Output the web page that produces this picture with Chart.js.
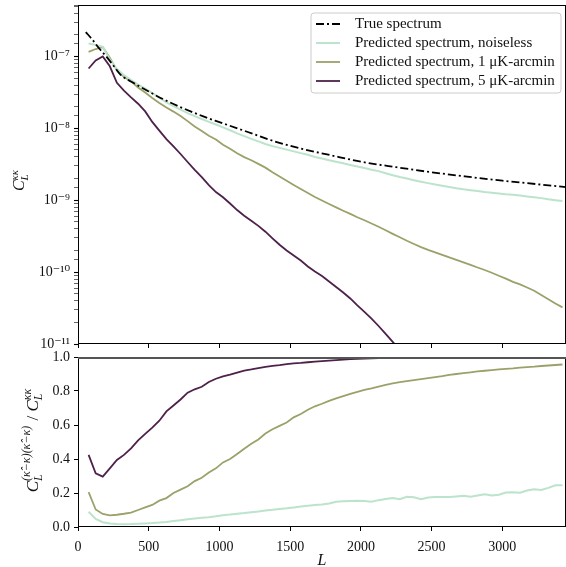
<!DOCTYPE html>
<html>
<head>
<meta charset="utf-8">
<script src="https://cdn.jsdelivr.net/npm/chart.js@4.4.1/dist/chart.umd.min.js"></script>
<style>
  html, body { margin: 0; padding: 0; background: #fff; }
  #wrap { position: relative; width: 566px; height: 567px; overflow: hidden; }
  #topChart { position: absolute; left: 0; top: 0; }
  #ratioChart { position: absolute; left: 0; top: 340px; }
</style>
</head>
<body>
<div id="wrap">
  <canvas id="topChart" width="566" height="356"></canvas>
  <canvas id="ratioChart" width="566" height="227"></canvas>
</div>
<script>
// multipole bins (centres)
const ells = [75, 125, 175, 225, 275, 325, 375, 425, 475, 525,
  575, 625, 675, 725, 775, 825, 875, 925, 975, 1025,
  1075, 1125, 1175, 1225, 1275, 1325, 1375, 1425, 1475, 1525,
  1575, 1625, 1675, 1725, 1775, 1825, 1875, 1925, 1975, 2025,
  2075, 2125, 2175, 2225, 2275, 2325, 2375, 2425, 2475, 2525,
  2575, 2625, 2675, 2725, 2775, 2825, 2875, 2925, 2975, 3025,
  3075, 3125, 3175, 3225, 3275, 3325, 3375, 3425];

// true spectrum
const trueEll = [55, 100, 150, 200, 250, 300, 400, 500, 600, 700, 800, 900, 1000,
  1200, 1400, 1600, 1800, 2000, 2250, 2500, 2750, 3000, 3250, 3450];
const trueCl = [2.18e-7, 1.73e-7, 1.29e-7, 1.0e-7, 7.5e-8, 5.6e-8, 4.2e-8, 3.25e-8, 2.56e-8, 2.07e-8, 1.71e-8, 1.43e-8, 1.22e-8,
  8.9e-9, 6.5e-9, 5.1e-9, 4.17e-9, 3.44e-9, 2.88e-9, 2.45e-9, 2.13e-9, 1.87e-9, 1.67e-9, 1.52e-9];

// predicted spectra
const clNoiseless = [1.52e-7, 1.45e-7, 1.36e-7, 9.1e-8, 6.7e-8, 5.5e-8, 4.7e-8, 4.07e-8, 3.58e-8, 3.1e-8,
  2.68e-8, 2.3e-8, 2.04e-8, 1.82e-8, 1.63e-8, 1.48e-8, 1.35e-8, 1.23e-8, 1.13e-8, 1.03e-8,
  9.4e-9, 8.5e-9, 7.8e-9, 7.15e-9, 6.6e-9, 6.07e-9, 5.66e-9, 5.35e-9, 5.06e-9, 4.78e-9,
  4.52e-9, 4.3e-9, 4.0e-9, 3.81e-9, 3.61e-9, 3.44e-9, 3.26e-9, 3.1e-9, 2.95e-9, 2.81e-9,
  2.66e-9, 2.54e-9, 2.38e-9, 2.23e-9, 2.1e-9, 2.0e-9, 1.9e-9, 1.81e-9, 1.73e-9, 1.66e-9,
  1.59e-9, 1.53e-9, 1.47e-9, 1.42e-9, 1.38e-9, 1.34e-9, 1.3e-9, 1.27e-9, 1.24e-9, 1.21e-9,
  1.19e-9, 1.16e-9, 1.13e-9, 1.1e-9, 1.07e-9, 1.03e-9, 1.0e-9, 9.75e-10];

const cl1uK = [1.16e-7, 1.27e-7, 1.35e-7, 9.6e-8, 6.4e-8, 5.2e-8, 4.5e-8, 3.7e-8, 3.15e-8, 2.64e-8,
  2.25e-8, 1.95e-8, 1.71e-8, 1.48e-8, 1.26e-8, 1.06e-8, 9.2e-9, 7.9e-9, 7.0e-9, 5.9e-9,
  5.2e-9, 4.5e-9, 3.98e-9, 3.6e-9, 3.2e-9, 2.84e-9, 2.45e-9, 2.14e-9, 1.87e-9, 1.63e-9,
  1.43e-9, 1.26e-9, 1.11e-9, 9.9e-10, 8.85e-10, 7.95e-10, 7.15e-10, 6.45e-10, 5.8e-10, 5.26e-10,
  4.75e-10, 4.27e-10, 3.82e-10, 3.41e-10, 3.05e-10, 2.73e-10, 2.46e-10, 2.23e-10, 2.04e-10, 1.88e-10,
  1.74e-10, 1.6e-10, 1.48e-10, 1.37e-10, 1.26e-10, 1.16e-10, 1.07e-10, 9.8e-11, 8.9e-11, 8.1e-11,
  7.3e-11, 6.75e-11, 6.1e-11, 5.5e-11, 4.8e-11, 4.2e-11, 3.67e-11, 3.23e-11];

const cl5uK = [6.8e-8, 8.8e-8, 1.0e-7, 7.3e-8, 4.3e-8, 3.35e-8, 2.7e-8, 2.2e-8, 1.72e-8, 1.23e-8,
  9.3e-9, 7.1e-9, 5.6e-9, 4.4e-9, 3.4e-9, 2.65e-9, 2.1e-9, 1.62e-9, 1.3e-9, 1.1e-9,
  9.0e-10, 7.3e-10, 6.1e-10, 5.2e-10, 4.4e-10, 3.65e-10, 2.95e-10, 2.4e-10, 2.0e-10, 1.7e-10,
  1.45e-10, 1.2e-10, 1.02e-10, 8.8e-11, 7.4e-11, 6.2e-11, 5.2e-11, 4.3e-11, 3.45e-11, 2.8e-11,
  2.25e-11, 1.78e-11, 1.38e-11, 1.07e-11, 8.2e-12, 6.3e-12];

// residual / true ratio
const ratioNoiseless = [0.09, 0.048, 0.028, 0.02, 0.017, 0.016, 0.017, 0.019, 0.021, 0.023,
  0.026, 0.03, 0.035, 0.04, 0.045, 0.05, 0.055, 0.058, 0.063, 0.069,
  0.073, 0.078, 0.082, 0.087, 0.091, 0.097, 0.101, 0.106, 0.11, 0.115,
  0.12, 0.125, 0.129, 0.132, 0.138, 0.149, 0.151, 0.153, 0.155, 0.153,
  0.149, 0.158, 0.165, 0.171, 0.163, 0.178, 0.175, 0.163, 0.174, 0.176,
  0.176, 0.176, 0.18, 0.184, 0.178, 0.185, 0.192, 0.185, 0.19, 0.203,
  0.204, 0.202, 0.215, 0.222, 0.218, 0.23, 0.245, 0.245];

const ratio1uK = [0.205, 0.103, 0.077, 0.068, 0.072, 0.078, 0.085, 0.1, 0.115, 0.13,
  0.155, 0.17, 0.2, 0.22, 0.24, 0.27, 0.29, 0.32, 0.345, 0.38,
  0.4, 0.43, 0.46, 0.49, 0.515, 0.55, 0.575, 0.595, 0.615, 0.645,
  0.665, 0.69, 0.71, 0.725, 0.742, 0.757, 0.77, 0.783, 0.795, 0.806,
  0.815, 0.826, 0.836, 0.845, 0.852, 0.858, 0.864, 0.87, 0.876, 0.882,
  0.888, 0.895, 0.9, 0.905, 0.91, 0.915, 0.919, 0.923, 0.927, 0.93,
  0.933, 0.937, 0.94, 0.943, 0.947, 0.95, 0.953, 0.956];

const ratio5uK = [0.424, 0.316, 0.296, 0.345, 0.394, 0.424, 0.463, 0.51, 0.548, 0.585,
  0.625, 0.68, 0.715, 0.75, 0.79, 0.81, 0.825, 0.853, 0.872, 0.886,
  0.896, 0.908, 0.92, 0.927, 0.935, 0.942, 0.948, 0.952, 0.958, 0.962,
  0.965, 0.969, 0.973, 0.976, 0.979, 0.982, 0.985, 0.987, 0.989, 0.991,
  0.992, 0.994, 0.995, 0.996, 0.997, 0.997, 0.998, 0.998, 0.998, 0.999,
  0.999, 0.999, 0.999, 0.999, 1.0, 1.0, 1.0, 1.0, 1.0, 1.0,
  1.0, 1.0, 1.0, 1.0, 1.0, 1.0, 1.0, 1.0];

const xTicks = [0, 500, 1000, 1500, 2000, 2500, 3000];
const labels = ['True spectrum', 'Predicted spectrum, noiseless',
  'Predicted spectrum, 1 μK-arcmin', 'Predicted spectrum, 5 μK-arcmin'];

const MINT = '#bce3cb', OLIVE = '#9ca16a', PURPLE = '#4d2149';
const SERIF = '"Liberation Serif", "DejaVu Serif", serif';

const supMap = {'-': '⁻', '0': '⁰', '1': '¹', '2': '²', '3': '³', '4': '⁴', '5': '⁵', '6': '⁶', '7': '⁷', '8': '⁸', '9': '⁹'};
const toSup = s => String(s).split('').map(c => supMap[c] || c).join('');
const isPow10 = v => { const e = Math.log10(v); return Math.abs(e - Math.round(e)) < 1e-9; };
const pts = (xs, ys) => ys.map((y, i) => ({x: xs[i], y: y}));

// box round the plot area
const frame = {
    id: 'frame',
    afterDatasetsDraw(chart, args, opts) {
        const {left, top, right, bottom} = chart.chartArea;
        const ctx = chart.ctx;
        ctx.save();
        ctx.strokeStyle = '#000';
        ctx.lineWidth = 1;
        ctx.beginPath();
        ctx.moveTo(left + 0.5, top);
        ctx.lineTo(left + 0.5, bottom);
        ctx.moveTo(left, bottom - 0.5);
        ctx.lineTo(right, bottom - 0.5);
        ctx.moveTo(right - 0.5, bottom);
        ctx.lineTo(right - 0.5, top);
        ctx.stroke();
        ctx.strokeStyle = opts.topColor || '#000';
        ctx.lineWidth = opts.topWidth || 1;
        ctx.beginPath();
        ctx.moveTo(left, top + ctx.lineWidth / 2);
        ctx.lineTo(right, top + ctx.lineWidth / 2);
        ctx.stroke();
        ctx.restore();
    }
};

// axis labels with sub/superscripts
function drawMath(ctx, lbl) {
    const parts = [];
    let w = 0;
    ctx.save();
    lbl.parts.forEach(p => {
        if (p.t !== undefined) {
            const font = (p.it ? 'italic ' : '') + lbl.size + 'px ' + SERIF;
            ctx.font = font;
            parts.push({t: p.t, x: w, dy: 0, font});
            w += ctx.measureText(p.t).width + (p.gap || 0);
        } else {
            const font = 'italic ' + lbl.small + 'px ' + SERIF;
            ctx.font = font;
            let sw = 0;
            if (p.sup) {
                parts.push({t: p.sup, x: w, dy: -lbl.size * (p.supUp || 0.4), font});
                sw = Math.max(sw, ctx.measureText(p.sup).width);
            }
            if (p.sub) {
                parts.push({t: p.sub, x: w, dy: lbl.size * 0.24, font});
                sw = Math.max(sw, ctx.measureText(p.sub).width);
            }
            w += sw + 1;
        }
    });
    ctx.translate(lbl.x, lbl.y);
    if (lbl.rotate) ctx.rotate(-Math.PI / 2);
    ctx.fillStyle = '#111';
    ctx.textBaseline = 'alphabetic';
    ctx.textAlign = 'left';
    parts.forEach(p => { ctx.font = p.font; ctx.fillText(p.t, p.x - w / 2, p.dy); });
    ctx.restore();
}

const mathLabels = {
    id: 'mathLabels',
    afterDraw(chart, args, opts) {
        (opts.items || []).forEach(lbl => drawMath(chart.ctx, lbl));
    }
};

// legend box in the upper right
const legendBox = {
    id: 'legendBox',
    afterDraw(chart) {
        const ctx = chart.ctx;
        const x0 = 311, y0 = 13, w = 250, h = 80, r = 3;
        ctx.save();
        ctx.beginPath();
        ctx.moveTo(x0 + r, y0);
        ctx.arcTo(x0 + w, y0, x0 + w, y0 + h, r);
        ctx.arcTo(x0 + w, y0 + h, x0, y0 + h, r);
        ctx.arcTo(x0, y0 + h, x0, y0, r);
        ctx.arcTo(x0, y0, x0 + w, y0, r);
        ctx.closePath();
        ctx.fillStyle = 'rgba(255,255,255,0.85)';
        ctx.fill();
        ctx.strokeStyle = '#cccccc';
        ctx.lineWidth = 1;
        ctx.stroke();
        // size the text so the longest entry is ~200px wide, as in the original
        ctx.font = '14px ' + SERIF;
        const widest = Math.max(...chart.data.datasets.map(ds => ctx.measureText(ds.label).width));
        const fontSize = Math.min(16, 14 * 200 / widest);
        chart.data.datasets.forEach((ds, i) => {
            const y = 24 + i * 19;
            ctx.strokeStyle = ds.borderColor;
            ctx.lineWidth = ds.borderWidth;
            ctx.setLineDash(ds.borderDash || []);
            ctx.beginPath();
            ctx.moveTo(316, y);
            ctx.lineTo(340, y);
            ctx.stroke();
            ctx.setLineDash([]);
            ctx.fillStyle = '#111';
            ctx.font = fontSize.toFixed(2) + 'px ' + SERIF;
            ctx.textBaseline = 'middle';
            ctx.fillText(ds.label, 355, y);
        });
        ctx.restore();
    }
};

const tickFont = {family: SERIF, size: 14};

new Chart(document.getElementById('topChart'), {
    type: 'line',
    data: {
        datasets: [
            {label: labels[0], data: pts(trueEll, trueCl), borderColor: '#000', borderWidth: 1.8,
             borderDash: [8, 3, 2, 3], pointRadius: 0, cubicInterpolationMode: 'monotone'},
            {label: labels[1], data: pts(ells, clNoiseless), borderColor: MINT, borderWidth: 2, pointRadius: 0},
            {label: labels[2], data: pts(ells, cl1uK), borderColor: OLIVE, borderWidth: 1.8, pointRadius: 0},
            {label: labels[3], data: pts(ells, cl5uK), borderColor: PURPLE, borderWidth: 1.8, pointRadius: 0}
        ]
    },
    options: {
        responsive: false,
        animation: false,
        layout: {padding: {top: 5, left: 0, right: 0, bottom: 0}},
        plugins: {
            legend: {display: false},
            tooltip: {enabled: false},
            frame: {},
            mathLabels: {items: [
                {x: 24, y: 180, rotate: true, size: 16, small: 11,
                 parts: [{t: 'C', it: true}, {sup: 'κκ', sub: 'L'}]}
            ]}
        },
        scales: {
            x: {
                type: 'linear', min: 0, max: 3450,
                afterBuildTicks: s => { s.ticks = xTicks.map(v => ({value: v})); },
                ticks: {display: false},
                grid: {drawOnChartArea: false, drawTicks: true, tickLength: 4, tickColor: '#000', tickWidth: 1},
                border: {display: false},
                afterFit: s => { s.height = 12; s.paddingLeft = 0; s.paddingRight = 0; }
            },
            y: {
                type: 'logarithmic', min: 1e-11, max: 5.2e-7,
                ticks: {
                    autoSkip: false, padding: 4, color: '#111', font: tickFont,
                    callback: v => (isPow10(v) ? '10' + toSup(Math.round(Math.log10(v))) : '')
                },
                grid: {
                    drawOnChartArea: false, drawTicks: true, tickLength: 4, tickColor: '#000',
                    tickWidth: c => (c.tick && isPow10(c.tick.value) ? 1.1 : 0.6)
                },
                border: {display: false},
                afterFit: s => { s.width = 78; s.paddingTop = 0; s.paddingBottom = 0; }
            }
        }
    },
    plugins: [frame, legendBox, mathLabels]
});

new Chart(document.getElementById('ratioChart'), {
    type: 'line',
    data: {
        datasets: [
            {label: labels[3], data: pts(ells, ratio5uK), borderColor: PURPLE, borderWidth: 1.8, pointRadius: 0},
            {label: labels[2], data: pts(ells, ratio1uK), borderColor: OLIVE, borderWidth: 1.8, pointRadius: 0},
            {label: labels[1], data: pts(ells, ratioNoiseless), borderColor: MINT, borderWidth: 2, pointRadius: 0}
        ]
    },
    options: {
        responsive: false,
        animation: false,
        layout: {padding: {top: 17, left: 0, right: 0, bottom: 0}},
        plugins: {
            legend: {display: false},
            tooltip: {enabled: false},
            frame: {topColor: '#555', topWidth: 2},
            mathLabels: {items: [
                {x: 38, y: 100, rotate: true, size: 17, small: 12,
                 parts: [{t: 'C', it: true}, {sup: '(κ̂−κ)(κ̂−κ)', sub: 'L', supUp: 0.45},
                         {t: ' / ', gap: 0}, {t: 'C', it: true}, {sup: 'κκ', sub: 'L'}]},
                {x: 322, y: 225, rotate: false, size: 16, small: 11, parts: [{t: 'L', it: true}]}
            ]}
        },
        scales: {
            x: {
                type: 'linear', min: 0, max: 3450,
                afterBuildTicks: s => { s.ticks = xTicks.map(v => ({value: v})); },
                ticks: {padding: 8, color: '#111', font: tickFont, maxRotation: 0, callback: v => String(v)},
                grid: {drawOnChartArea: false, drawTicks: true, tickLength: 4, tickColor: '#000', tickWidth: 1},
                border: {display: false},
                afterFit: s => { s.height = 40; s.paddingLeft = 0; s.paddingRight = 0; }
            },
            y: {
                type: 'linear', min: 0, max: 1,
                ticks: {stepSize: 0.2, padding: 4, color: '#111', font: tickFont, callback: v => v.toFixed(1)},
                grid: {drawOnChartArea: false, drawTicks: true, tickLength: 4, tickColor: '#000', tickWidth: 1},
                border: {display: false},
                afterFit: s => { s.width = 78; s.paddingTop = 0; s.paddingBottom = 0; }
            }
        }
    },
    plugins: [frame, mathLabels]
});
</script>
</body>
</html>
